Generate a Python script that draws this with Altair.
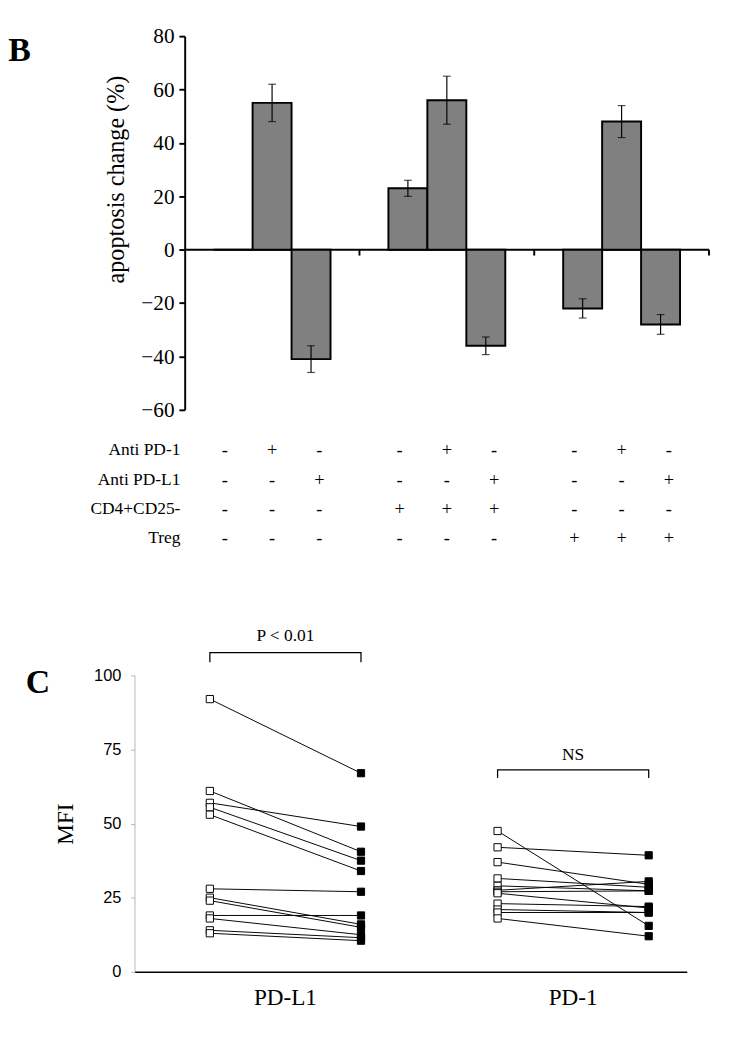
import altair as alt
import pandas as pd

# ---------------- Panel B data ----------------
groups = ["G1", "G2", "G3"]
bar_idx = ["1", "2", "3"]
bar_values = [[0, 55, -41], [23, 56, -36], [-22, 48, -28]]
bar_errors = [[0, 7, 5], [3, 9, 3.3], [3.6, 6, 3.7]]

row_labels = ["Anti PD-1", "Anti PD-L1", "CD4+CD25-", "Treg"]
anti_pd1 = ["-", "+", "-", "-", "+", "-", "-", "+", "-"]
anti_pdl1 = ["-", "-", "+", "-", "-", "+", "-", "-", "+"]
cd4cd25 = ["-", "-", "-", "+", "+", "+", "-", "-", "-"]
treg = ["-", "-", "-", "-", "-", "-", "+", "+", "+"]

# ---------------- Panel C data ----------------
markers = ["PD-L1", "PD-1"]
times = ["before", "after"]
pdl1_before = [92, 61, 57, 55.5, 53, 28, 25, 24, 19, 18, 14, 13]
pdl1_after = [67, 40.5, 49, 37.5, 34, 27, 16, 15, 19, 12.5, 11.5, 10.5]
pd1_before = [47.5, 42, 37, 31.5, 29, 27.5, 27, 26.5, 23, 21, 20, 18]
pd1_after = [15.5, 39.3, 29.5, 28.5, 27.3, 30.5, 27.3, 21.5, 22, 20, 20, 12]
bracket_top = [107.7, 68.1]
bracket_foot = [104.4, 65.4]
sig_labels = ["P < 0.01", "NS"]
sig_label_y = [113.3, 73.2]

SERIF = "Liberation Serif"
SANS = "Liberation Sans"
WB = 543  # panel B plot width

# ---------- build tables ----------
bar_rows = []
for gi, g in enumerate(groups):
    for bi, b in enumerate(bar_idx):
        bar_rows.append({"group": g, "idx": b, "value": bar_values[gi][bi], "err": bar_errors[gi][bi]})
bar_df = pd.DataFrame(bar_rows)

tab_rows = []
for rname, signs in zip(row_labels, [anti_pd1, anti_pdl1, cd4cd25, treg]):
    for k, s in enumerate(signs):
        tab_rows.append({"row": rname, "group": groups[k // 3], "col": bar_idx[k % 3], "sign": s})
tab_df = pd.DataFrame(tab_rows)

c_rows = []
for m, bef, aft in [("PD-L1", pdl1_before, pdl1_after), ("PD-1", pd1_before, pd1_after)]:
    for i, (b, a) in enumerate(zip(bef, aft)):
        c_rows.append({"subj": f"{m}-{i}", "marker": m, "time": "before", "ord": 0, "value": b})
        c_rows.append({"subj": f"{m}-{i}", "marker": m, "time": "after", "ord": 1, "value": a})
c_df = pd.DataFrame(c_rows)

br_rows = []
for m, top, foot in zip(markers, bracket_top, bracket_foot):
    br_rows += [
        {"marker": m, "time": "before", "seq": 0, "value": foot},
        {"marker": m, "time": "before", "seq": 1, "value": top},
        {"marker": m, "time": "after", "seq": 2, "value": top},
        {"marker": m, "time": "after", "seq": 3, "value": foot},
    ]
br_df = pd.DataFrame(br_rows)
sig_df = pd.DataFrame({"marker": markers, "value": sig_label_y, "label": sig_labels})

# ---------------- Panel B chart ----------------
xB_scale = alt.Scale(paddingInner=0, paddingOuter=0)
xB = alt.X("group:N", sort=groups, scale=xB_scale, axis=None)
xoB = alt.XOffset("idx:N", sort=bar_idx,
                  scale=alt.Scale(type="band", paddingInner=0, paddingOuter=0.743))
yB_scale = alt.Scale(domain=[-60, 80], nice=False, zero=False)
yB_axis = alt.Axis(values=[-60, -40, -20, 0, 20, 40, 60, 80], title=None,
                   grid=False, domainColor="black", domainWidth=2, tickColor="black",
                   tickWidth=2, tickSize=6, labelFont=SERIF, labelFontSize=22,
                   labelColor="black", labelPadding=5)

baseB = alt.Chart(bar_df)
bars = baseB.mark_bar(fill="#808080", stroke="black", strokeWidth=2).encode(
    x=xB, xOffset=xoB,
    y=alt.Y("value:Q", scale=yB_scale, axis=yB_axis),
    y2=alt.datum(0),
)
zero_line = alt.Chart(pd.DataFrame({"z": [0]})).mark_rule(color="black", strokeWidth=2).encode(
    y=alt.Y("z:Q", scale=yB_scale, axis=yB_axis))
sep_ticks = alt.Chart(pd.DataFrame({"group": groups, "top": [0, 0, 0], "bot": [-2.2, -2.2, -2.2]})).mark_rule(
    color="black", strokeWidth=2).encode(
    x=alt.X("group:N", sort=groups, scale=xB_scale, axis=None, bandPosition=1),
    y=alt.Y("top:Q", scale=yB_scale, axis=yB_axis), y2="bot:Q")
errB = baseB.transform_filter("datum.err > 0").transform_calculate(
    lo="datum.value - datum.err", hi="datum.value + datum.err")
err_rule = errB.mark_rule(color="black", strokeWidth=1.2).encode(
    x=xB, xOffset=xoB,
    y=alt.Y("lo:Q", scale=yB_scale, axis=yB_axis), y2="hi:Q")
cap_lo = errB.mark_tick(color="black", thickness=1.2, size=8).encode(
    x=xB, xOffset=xoB, y=alt.Y("lo:Q", scale=yB_scale, axis=yB_axis))
cap_hi = errB.mark_tick(color="black", thickness=1.2, size=8).encode(
    x=xB, xOffset=xoB, y=alt.Y("hi:Q", scale=yB_scale, axis=yB_axis))
letterB = alt.Chart(pd.DataFrame({"t": ["B"]})).mark_text(
    font=SERIF, fontSize=35, fontWeight="bold", align="center", baseline="middle",
    color="black").encode(text="t:N", x=alt.value(-171), y=alt.value(14.5))
titleB = alt.Chart(pd.DataFrame({"t": ["apoptosis change (%)"]})).mark_text(
    font=SERIF, fontSize=25, angle=270, align="center", baseline="middle",
    color="black").encode(text="t:N", x=alt.value(-71), y=alt.value(148.5))

chartB = alt.layer(zero_line, sep_ticks, bars, err_rule, cap_lo, cap_hi, letterB, titleB).properties(
    width=WB, height=387)

# ---------------- Table ----------------
table = alt.Chart(tab_df).mark_text(font=SERIF, fontSize=19, color="black", baseline="middle").encode(
    x=alt.X("group:N", sort=groups, scale=alt.Scale(paddingInner=0, paddingOuter=0), axis=None),
    xOffset=alt.XOffset("col:N", sort=bar_idx, scale=alt.Scale(type="point", padding=0.85)),
    y=alt.Y("row:N", sort=row_labels,
            scale=alt.Scale(type="band", paddingInner=0, paddingOuter=1, align=0),
            axis=alt.Axis(title=None, domain=False, ticks=False, labelFont=SERIF,
                          labelFontSize=18, labelColor="black", labelPadding=5)),
    text="sign:N",
).properties(width=WB, height=182)

# ---------------- Panel C chart ----------------
xC = alt.X("marker:N", sort=markers,
           scale=alt.Scale(range=[-52, 520], paddingInner=0.21, paddingOuter=0.0648, align=1),
           axis=alt.Axis(title=None, labelAngle=0, labelFont=SERIF, labelFontSize=24,
                         labelColor="black", ticks=False, tickSize=0, labelPadding=15,
                         domainColor="black", domainWidth=1.5, grid=False))
xoC = alt.XOffset("time:N", sort=times, scale=alt.Scale(type="point", padding=0.252))
yC_scale = alt.Scale(domain=[0, 100], nice=False)
yC_axis = alt.Axis(values=[0, 25, 50, 75, 100], title="MFI", offset=52, grid=False,
                   domainColor="#b5b5b5", tickColor="#b5b5b5", tickSize=4,
                   labelFont=SANS, labelFontSize=17, labelColor="black", labelPadding=10,
                   titleFont=SERIF, titleFontSize=24, titleFontWeight="normal",
                   titleColor="black", titlePadding=17)
yC = alt.Y("value:Q", scale=yC_scale, axis=yC_axis)

lines = alt.Chart(c_df).mark_line(color="black", strokeWidth=1).encode(
    x=xC, xOffset=xoC, y=yC, detail="subj:N", order="ord:Q")
squares = alt.Chart(c_df).mark_square(size=56, stroke="black", strokeWidth=1, opacity=1).encode(
    x=xC, xOffset=xoC, y=yC,
    fill=alt.Fill("time:N", scale=alt.Scale(domain=times, range=["white", "black"]), legend=None))
brackets = alt.Chart(br_df).mark_line(color="black", strokeWidth=1.3).encode(
    x=xC, xOffset=xoC, y=yC, detail="marker:N", order="seq:Q")
sig = alt.Chart(sig_df).mark_text(font=SERIF, fontSize=18, color="black", baseline="middle").encode(
    x=xC, y=yC, text="label:N")
letterC = alt.Chart(pd.DataFrame({"t": ["C"]})).mark_text(
    font=SERIF, fontSize=35, fontWeight="bold", align="center", baseline="middle",
    color="black").encode(text="t:N", x=alt.value(-152), y=alt.value(7))

chartC = alt.layer(lines, brackets, squares, sig, letterC).properties(width=WB, height=307)

chart = alt.vconcat(chartB, table, chartC, spacing=16).resolve_scale(
    x="independent", y="independent", xOffset="independent"
).properties(padding=0).configure_view(stroke=None)

chart.save("out.html", embed_options={"renderer": "svg", "actions": False})
